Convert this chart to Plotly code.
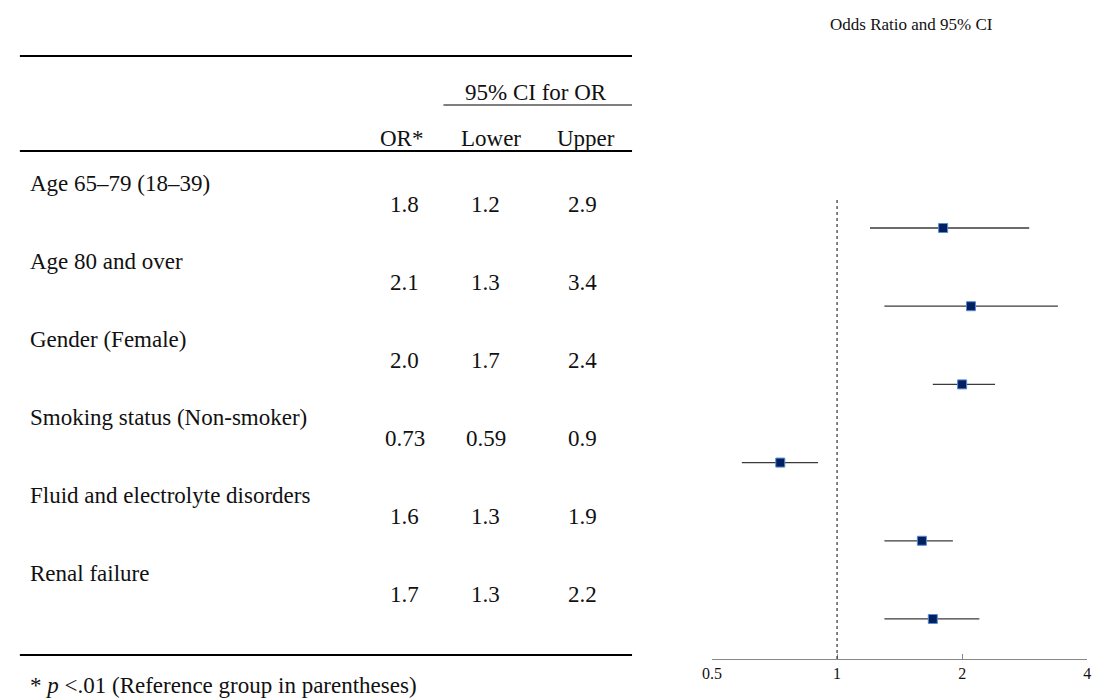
import numpy as np
import plotly.graph_objects as go

FAMILY = "Liberation Serif"
W, H = 1107, 700

labels = ["Age 65\u201379 (18\u201339)", "Age 80 and over", "Gender (Female)",
          "Smoking status (Non-smoker)", "Fluid and electrolyte disorders", "Renal failure"]
odds = [1.8, 2.1, 2.0, 0.73, 1.6, 1.7]
lower = [1.2, 1.3, 1.7, 0.59, 1.3, 1.3]
upper = [2.9, 3.4, 2.4, 0.9, 1.9, 2.2]
odds_txt = ["1.8", "2.1", "2.0", "0.73", "1.6", "1.7"]
lower_txt = ["1.2", "1.3", "1.7", "0.59", "1.3", "1.3"]
upper_txt = ["2.9", "3.4", "2.4", "0.9", "1.9", "2.2"]
tick_vals = [0.5, 1, 2, 4]
tick_text = ["0.5", "1", "2", "4"]


def px(x):
    return x / W


def py(y):
    return 1 - y / H


rows = list(range(len(labels)))
odds_a = np.array(odds)

fig = go.Figure()

# confidence intervals + point estimates
fig.add_trace(go.Scatter(
    x=odds, y=rows, mode="markers",
    error_x=dict(type="data", symmetric=False,
                 array=list(np.array(upper) - odds_a),
                 arrayminus=list(odds_a - np.array(lower)),
                 color="#3a3a3a", thickness=1.3, width=0),
    marker=dict(symbol="square", size=9, color="#002060",
                line=dict(color="#5b8bd0", width=1)),
    hoverinfo="skip", showlegend=False))

# reference line at OR = 1
fig.add_shape(type="line", xref="x", yref="y domain", x0=1, x1=1, y0=0, y1=1,
              line=dict(color="#333333", width=1.2, dash="dot"))

ann = []
for i in rows:
    ann.append(dict(x=px(18), y=i, xref="paper", yref="y", text=labels[i],
                    xanchor="left", yanchor="middle", yshift=45, showarrow=False))
    for xc, txt in [(400, odds_txt[i]), (482, lower_txt[i]), (580, upper_txt[i])]:
        ann.append(dict(x=px(xc), y=i, xref="paper", yref="y", text=txt,
                        xanchor="center", yanchor="middle", yshift=24, showarrow=False))

ann += [
    dict(x=px(533), y=py(92), text="95% CI for OR"),
    dict(x=px(397), y=py(138), text="OR*"),
    dict(x=px(487), y=py(138), text="Lower"),
    dict(x=px(583), y=py(138), text="Upper"),
    dict(x=px(18), y=py(685), text="* <i>p</i> <.01 (Reference group in parentheses)", xanchor="left"),
    dict(x=px(913), y=py(25), text="Odds Ratio and 95% CI", font=dict(size=17)),
]
for a in ann:
    a.setdefault("xref", "paper")
    a.setdefault("yref", "paper")
    a.setdefault("showarrow", False)
    a.setdefault("yanchor", "middle")
    a.setdefault("xanchor", "center")

# table rules
rules = [(10, 630, 56, 2), (439, 630, 105, 1), (10, 630, 151, 2), (10, 630, 655, 2)]
for x0, x1, y, w in rules:
    fig.add_shape(type="line", xref="paper", yref="paper", x0=px(x0), x1=px(x1),
                  y0=py(y), y1=py(y), line=dict(color="black", width=w))

fig.update_layout(
    width=W, height=H,
    margin=dict(l=0, r=0, t=0, b=0),
    paper_bgcolor="white", plot_bgcolor="white",
    font=dict(family=FAMILY, size=23, color="#111111"),
    annotations=ann,
    xaxis=dict(type="log", domain=[px(711), px(1091)],
               range=[np.log10(0.5), np.log10(4)],
               tickvals=tick_vals, ticktext=tick_text,
               showline=True, linecolor="#888888", linewidth=1,
               ticks="inside", ticklen=5, tickcolor="#888888",
               showgrid=False, zeroline=False,
               tickfont=dict(size=16, family=FAMILY, color="#111111")),
    yaxis=dict(domain=[py(659), py(198)], range=[5.512, -0.384],
               showticklabels=False, showgrid=False, zeroline=False,
               showline=False, ticks=""),
)

# page margin would shift the figure by 8px
fig.write_html("out.html", config={"displayModeBar": False},
               post_script="document.body.style.margin = '0';")
